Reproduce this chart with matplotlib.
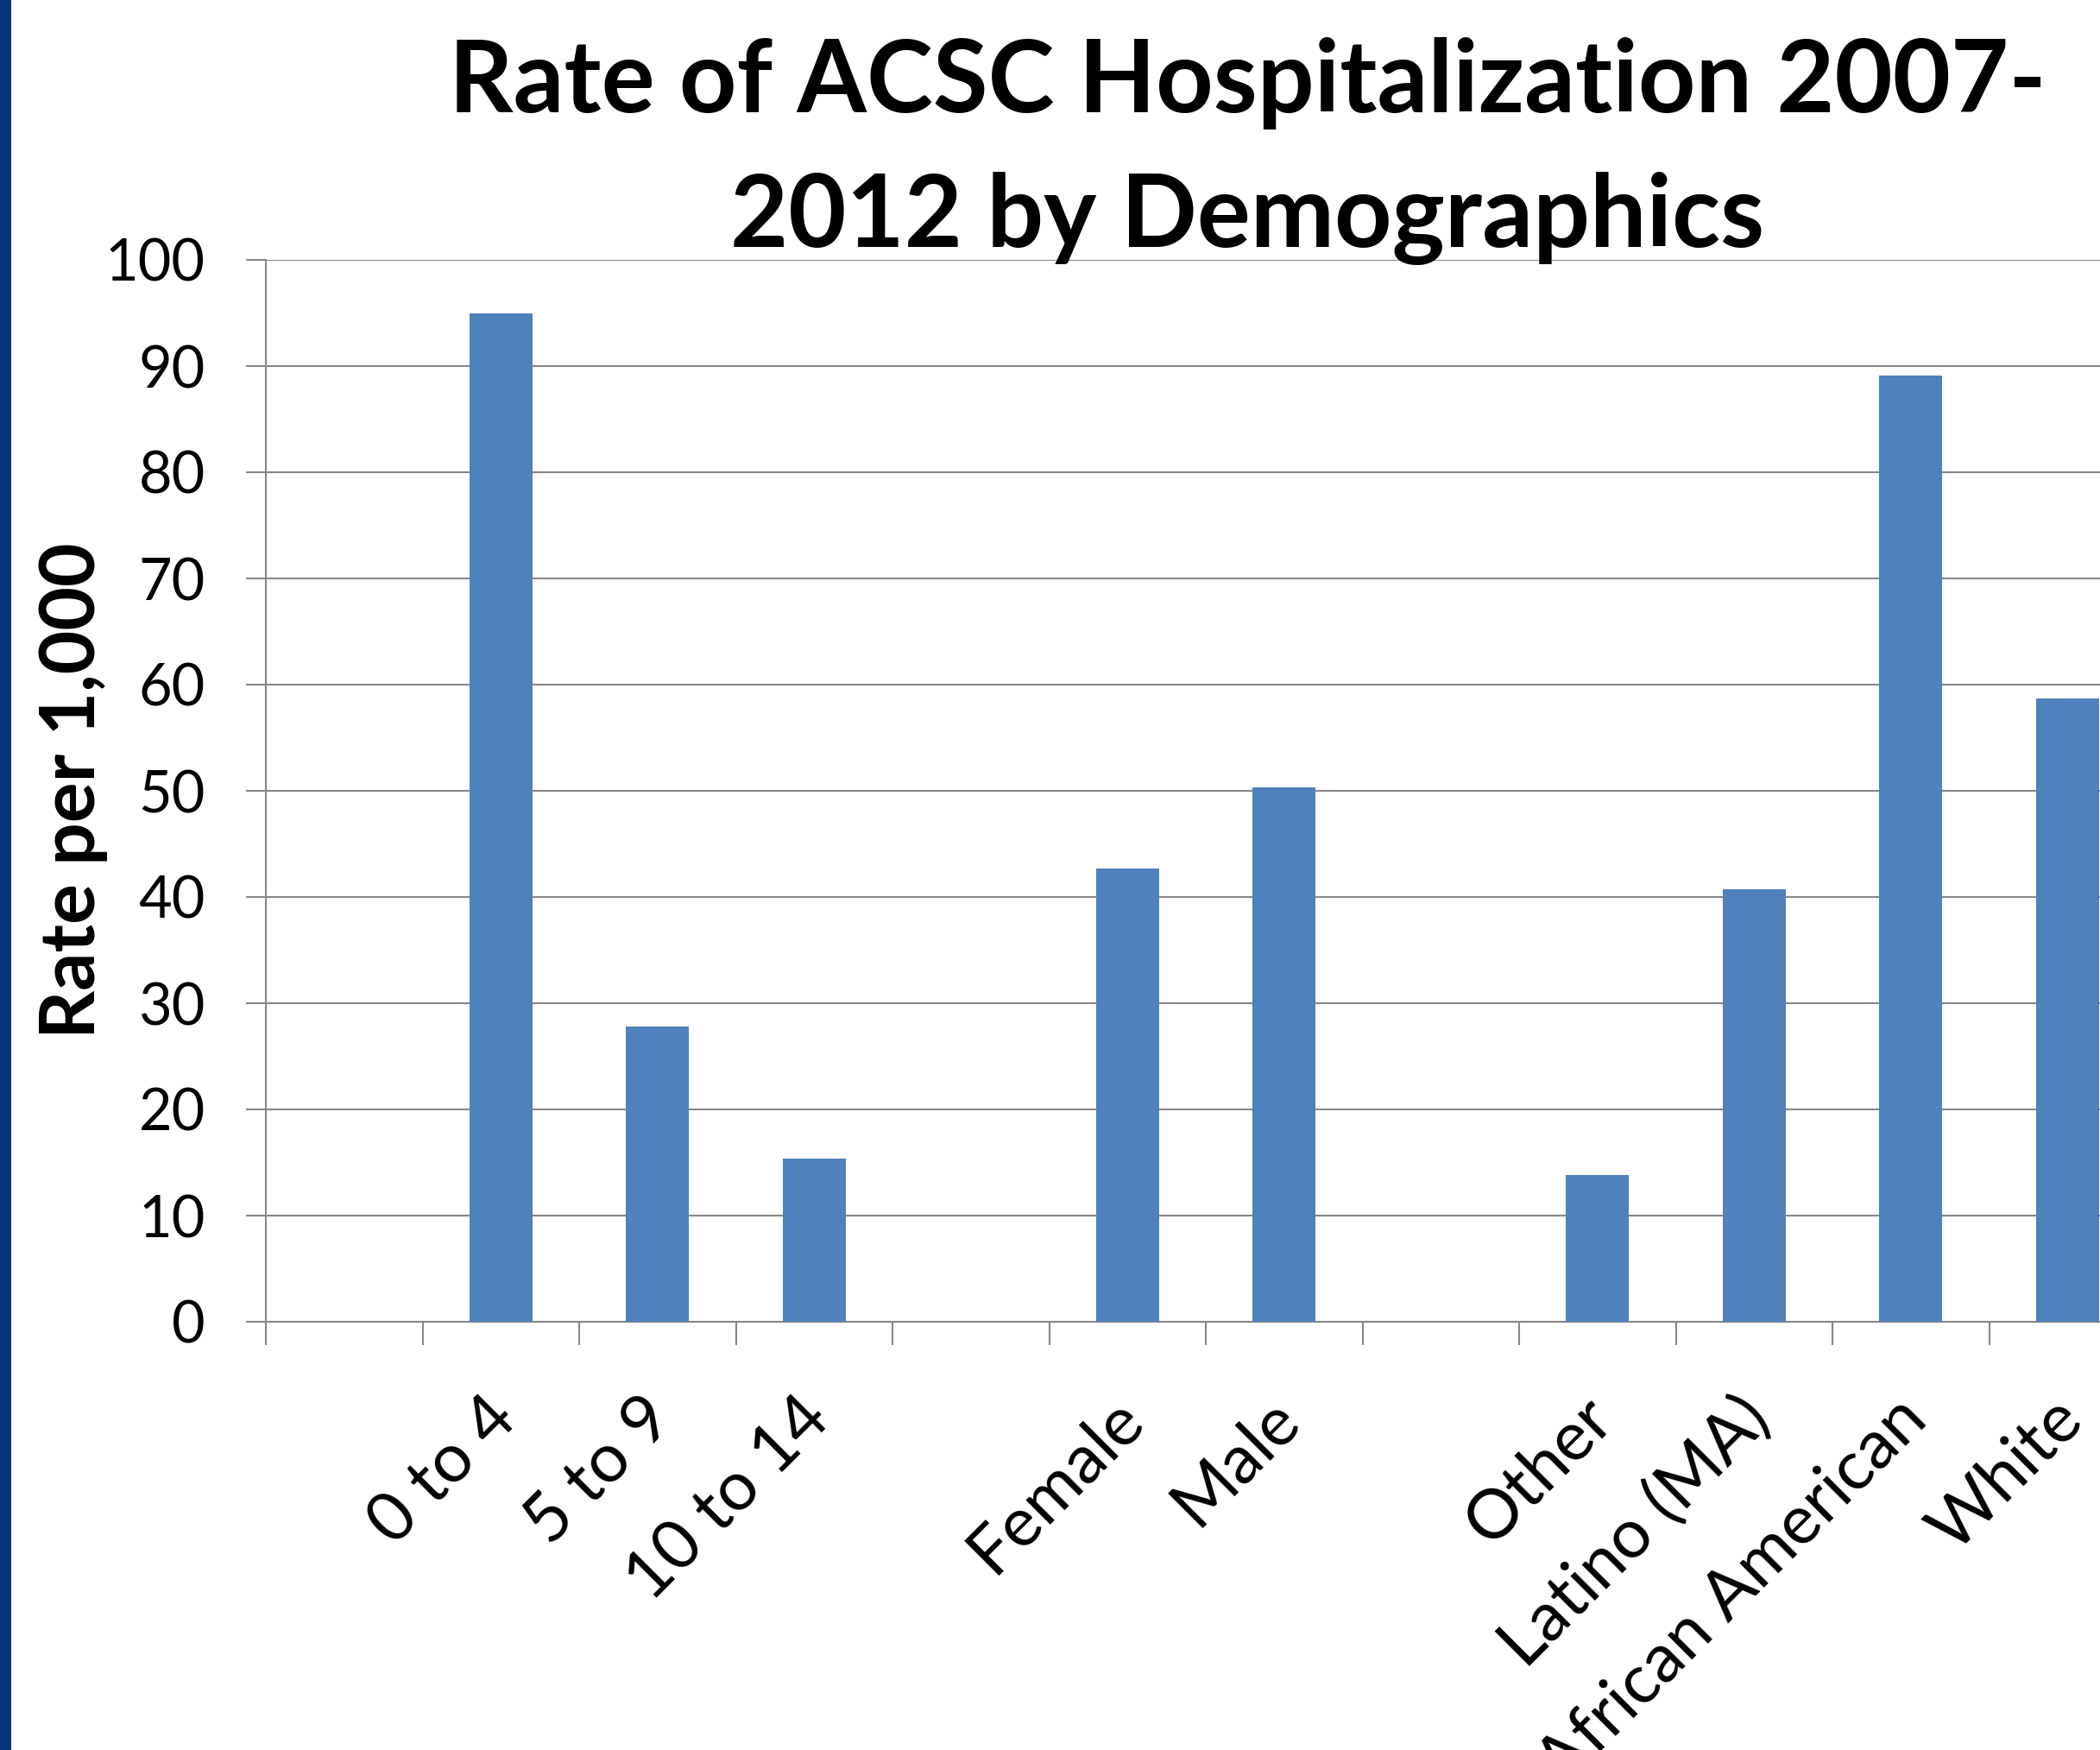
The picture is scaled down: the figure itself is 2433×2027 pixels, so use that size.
import matplotlib
matplotlib.use("Agg")
import matplotlib.pyplot as plt
from matplotlib.patches import Rectangle
from matplotlib.transforms import ScaledTranslation
import numpy as np

# ---- data ----
categories = ["", "0 to 4", "5 to 9", "10 to 14", "", "Female", "Male", "",
              "Other", "Latino (MA)", "African American", "White"]
values = [np.nan, 95.0, 27.8, 15.4, np.nan, 42.7, 50.3, np.nan,
          13.8, 40.7, 89.1, 58.7]
yticks = [0, 10, 20, 30, 40, 50, 60, 70, 80, 90, 100]
title_lines = ["Rate of ACSC Hospitalization 2007-", "2012 by Demographics"]
ylabel = "Rate per 1,000"

FONT = "Lato"
BAR = "#4F81BD"
GRID = "#878787"

W, H, DPI = 2433, 2027, 100
fig = plt.figure(figsize=(W / DPI, H / DPI), dpi=DPI)

# axes geometry (pixels)
left_px, top_px, bottom_px = 308, 301, 1531
slot_px = 181.5
n = len(categories)
ax = fig.add_axes([left_px / W, 1 - bottom_px / H,
                   n * slot_px / W, (bottom_px - top_px) / H])

x = np.arange(n)
vals = np.array(values, dtype=float)
mask = ~np.isnan(vals)
ax.bar(x[mask], vals[mask], width=0.4, color=BAR, zorder=3)

ax.set_xlim(-0.5, n - 0.5)
ax.set_ylim(0, 100)
ax.set_yticks(yticks)
ax.set_yticklabels([str(v) for v in yticks], fontfamily=FONT, fontsize=48)
ax.yaxis.grid(True, color=GRID, linewidth=1.5, zorder=0)
ax.set_axisbelow(True)

for s in ["top", "right"]:
    ax.spines[s].set_visible(False)
for s in ["left", "bottom"]:
    ax.spines[s].set_color(GRID)
    ax.spines[s].set_linewidth(1.5)

ax.tick_params(axis="y", which="major", direction="out", length=16.5,
               width=1.5, color=GRID, pad=34)

# category boundaries as minor ticks
ax.set_xticks(np.arange(-0.5, n, 1.0), minor=True)
ax.tick_params(axis="x", which="minor", direction="out", length=19.5,
               width=1.5, color=GRID)
ax.set_xticks(x)
ax.set_xticklabels(categories, fontfamily=FONT, fontsize=57)
ax.tick_params(axis="x", which="major", length=0, pad=54)
off = ScaledTranslation(-14 / 72, 0, fig.dpi_scale_trans)
for lab in ax.get_xticklabels():
    lab.set_rotation(45)
    lab.set_rotation_mode("anchor")
    lab.set_ha("right")
    lab.set_va("top")
    lab.set_transform(lab.get_transform() + off)

ax.set_ylabel(ylabel, fontfamily=FONT, fontsize=63, fontweight="bold")
ax.yaxis.label.set_va("baseline")
ax.yaxis.set_label_coords((110 - left_px) / (n * slot_px), 0.5)

# title (two lines, centred on chart area)
fig.text(1445 / W, 1 - 130 / H, title_lines[0], ha="center", va="baseline",
         fontfamily=FONT, fontweight="bold", fontsize=83.5)
fig.text(1445 / W, 1 - 286 / H, title_lines[1], ha="center", va="baseline",
         fontfamily=FONT, fontweight="bold", fontsize=83.5)

# blue slide stripe on the left edge
fig.patches.append(Rectangle((0, 0), 13 / W, 1, transform=fig.transFigure,
                             facecolor="#0A3679", edgecolor="none", zorder=10))

fig.savefig("out.png", dpi=DPI)
